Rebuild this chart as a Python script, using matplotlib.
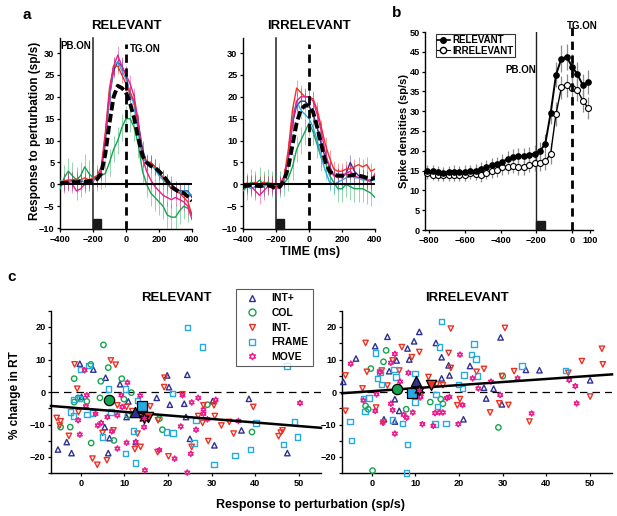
import matplotlib
matplotlib.use("Agg")
import matplotlib.pyplot as plt
from matplotlib.patches import Rectangle
from matplotlib.lines import Line2D
import numpy as np

plt.rcParams['font.family'] = ['Liberation Sans', 'DejaVu Sans']
plt.rcParams['font.weight'] = 'bold'
plt.rcParams['axes.labelweight'] = 'bold'

# ---------------- Panel a data ----------------
time_a = [-400, -375, -350, -325, -300, -275, -250, -225, -200, -175, -150, -125, -100, -75, -50, -25,
          0, 25, 50, 75, 100, 125, 150, 175, 200, 225, 250, 275, 300, 325, 350, 375, 400]

rel_mean = [0.2, 0.3, 0.4, 0.5, 0.5, 0.6, 0.6, 0.7, 0.8, 1.2, 2.5, 7, 14, 20, 22.5, 22, 21, 18.5, 15, 10.5, 6.5,
            5, 4.2, 3.8, 3, 2, 0.8, -0.5, -1.2, -1.8, -2, -2.8, -3.8]
rel_navy = [0, 0.5, 0.5, 1, 0.5, 0.8, 0.5, 1, 1, 1.5, 3, 10, 20, 26, 28, 27, 25, 20, 19, 14, 8, 5, 5, 4, 2.5,
            1.5, 0.5, 0, -1, -1.5, -1.5, -1.5, -3]
rel_red = [0.5, 0.8, 1, 1, 1.2, 1, 1.5, 1, 1.5, 2, 4, 12, 22, 27, 27, 25, 23, 21, 19, 13, 7, 5, 5, 4, 3, 1.5,
           0.5, -1, -1.5, -2, -3, -4, -7]
rel_cyan = [0.8, 0.5, 0.8, 0.5, 0.5, 1, 0.5, 0.5, 1, 1.5, 3, 11, 20, 27, 28, 26, 24, 21, 18, 12, 6, 5, 4.5,
            3.5, 2, 1, 0, -1, -1.5, -2, -1.5, -1.8, -2.5]
rel_magenta = [0, 0, 0.5, 0, -1.5, -1, 0, 0.5, 0.8, 1.5, 3, 11, 21, 27, 29.5, 27, 25, 23, 20, 14, 6, 3, 1,
               -0.5, -1.5, -2.5, -3, -3.5, -3, -3.5, -4, -5, -8]
rel_green = [-1, 1.5, 3, 2, 1, 2, 4, 2.5, 1.5, 1.5, 2, 2.5, 5, 8, 10, 13, 15, 15, 13, 9, 3, 0, -2, -3, -4,
             -5, -7, -7.5, -7.5, -6, -5, -5.5, -7]

irr_mean = [-0.5, -0.3, -0.2, -0.3, -0.4, -0.3, -0.2, -0.5, -1, -0.5, 1, 4, 9, 14, 17, 18, 18, 16.5, 13, 9,
            5, 3, 2.2, 2, 2, 2, 2, 2.2, 2, 1.8, 1.5, 1.2, 1.5]
irr_red = [0, 0.3, 0, 0.5, 0, 0.5, 0, 0.3, -0.5, 0, 2, 8, 17, 22, 21, 20, 20, 19.5, 17, 13, 9, 6, 3.5, 3, 3,
           3.5, 3.5, 4, 4.5, 4, 4.5, 3, 3.5]
irr_magenta = [-0.5, 0, -0.5, -1.5, -2.5, -1.5, -0.5, -0.5, -1, -0.3, 1.5, 6, 14, 19, 20, 20, 20, 19, 16,
               12, 7, 4, 2, 1.5, 2, 2.5, 3, 2, 1.5, 1.5, 1, 0.5, 2.5]
irr_navy = [0, 0, 0.3, 0, 0, 0, 0.2, 0, -0.5, 0, 1.5, 6, 14, 18, 19, 19, 18, 16, 13, 9, 6, 4, 2, 2, 1.5,
            2.5, 5, 3, 2, 1.5, 1, 1, 2]
irr_cyan = [-0.5, -0.5, -1, -0.5, -0.5, -0.5, 0, -0.3, -1, -0.5, 1, 7, 15, 19, 17, 16, 15, 13, 10, 6, 3,
            0.5, 0, 0.5, 1, 1.5, 2, 1.5, 1.5, 1, 1, 1, 1]
irr_green = [-1.5, -0.5, 0.5, 0, 1, 0, 0.5, 0, -0.5, 0, 0.3, 1.5, 4, 8, 10, 12, 14, 12, 9, 6, 5, 2, 0.5,
             -1, -1, 0, -0.5, -1, -1, -1, -1.5, -2, -3]

sem_a = {'navy': 1.8, 'red': 1.8, 'cyan': 2.0, 'magenta': 2.0, 'green': 3.0}

# ---------------- Panel b data ----------------
time_b = [-810, -780, -750, -720, -690, -660, -630, -600, -570, -540, -510, -480, -450, -420, -390, -360,
          -330, -300, -270, -240, -210, -180, -150, -120, -90, -60, -30, 0, 30, 60, 90]
sd_rel = [15.0, 14.8, 14.6, 14.5, 14.7, 14.7, 14.6, 14.7, 14.8, 15.0, 15.4, 15.9, 16.3, 16.7, 17.2, 18.0,
          18.5, 18.6, 18.7, 19.0, 19.3, 19.9, 21.8, 29.5, 39.2, 43.3, 43.7, 41.2, 39.3, 36.5, 37.3]
sd_irr = [14.3, 14.0, 13.8, 13.8, 13.9, 13.8, 13.8, 14.0, 14.5, 14.2, 13.8, 14.5, 14.8, 15.2, 15.8, 16.0,
          16.2, 15.8, 15.8, 16.5, 16.9, 17.0, 17.3, 19.3, 29.3, 36.0, 36.5, 35.8, 35.3, 32.6, 30.8]
err_rel = [1.5, 1.5, 1.5, 1.5, 1.5, 1.6, 1.6, 1.6, 1.6, 1.7, 1.7, 1.7, 1.8, 1.8, 1.9, 1.9, 2.0, 2.0, 2.0,
           2.0, 2.1, 2.2, 2.4, 2.8, 3.2, 3.3, 3.3, 3.2, 3.0, 3.0, 3.0]
err_irr = [1.4, 1.4, 1.4, 1.4, 1.4, 1.5, 1.5, 1.5, 1.5, 1.6, 1.6, 1.6, 1.7, 1.7, 1.8, 1.8, 1.9, 1.9, 1.9,
           1.9, 2.0, 2.1, 2.2, 2.6, 3.0, 3.0, 3.0, 3.0, 2.8, 2.8, 2.8]

# ---------------- Panel c data ----------------
cats = ['INT+', 'COL', 'INT-', 'FRAME', 'MOVE']

rel_intp_x = [-0.2, 2.9, 5.7, 9.0, 6.6, 5.5, -5.2, -3.2, -2.1, 6.3, 0.2, 10.9, 10.5, 12.6, 17.4, 19.8, 20.2,
              20.4, 24.4, 23.7, 24.1, 25.0, 30.6, 30.2, 38.5, 36.8, 47.3]
rel_intp_y = [8.7, 6.9, 4.4, 2.4, -14.2, -10.8, -17.7, -15.4, -18.8, -18.8, -1.5, -2.9, -7.7, -15.4, -1.8,
              5.1, 1.5, -3.9, 5.3, -3.6, -7.7, -14.4, -16.4, -2.8, -2.1, -11.8, -18.8]
rel_col_x = [5.2, -1.5, 2.3, 6.3, 4.6, 9.4, 4.4, 1.4, -1.5, -0.6, 11.6, 9.9, 7.6, 2.4, -2.4, -4.6, 10.8,
             18.0, 18.7, 29.0, 39.2]
rel_col_y = [14.5, 4.1, 8.5, 7.5, 3.3, 4.1, -1.8, -2.9, -3.1, -1.8, -0.2, -2.2, -14.9, -15.7, -10.8, -10.8,
             -7.2, -8.2, -11.6, -3.9, -12.3]
rel_intm_x = [-1.4, 6.9, 8.0, -0.8, -5.5, -4.6, -4.8, -2.7, -0.5, 2.7, 3.8, 6.0, 5.0, 7.5, 8.4, 10.5, 11.8,
              12.4, 13.7, 13.0, 15.3, 15.9, 17.6, 17.7, 19.2, 19.1, 20.1, 23.3, 25.4, 26.9, 27.9, 28.1,
              29.2, 30.5, 30.7, 32.2, 34.0, 35.0, 39.5, 45.3, 46.2, 45.8]
rel_intm_y = [8.5, 9.7, 8.4, 1.0, -8.0, -9.0, -10.3, -13.5, -6.2, -20.5, -22.4, -21.0, -12.6, -11.8, -4.1,
              -4.6, -5.9, -17.6, -16.9, -12.8, -7.7, -4.4, -18.5, -8.7, 4.4, 1.5, -19.8, -0.7, -16.9, -7.4,
              -9.5, -4.1, -15.1, -4.1, -7.4, -10.3, -9.2, -12.8, -4.6, -13.6, -11.8, -12.5]
rel_frame_x = [24.4, 27.9, 47.2, 0.0, 1.9, 6.3, 10.2, -2.3, -1.7, 1.4, 2.7, 5.0, 6.9, 10.3, 12.6, 12.1, 13.0,
               21.0, 19.7, 21.1, 26.4, 25.9, 30.5, 35.3, 38.9, 40.1, 46.4, 49.0, 49.6, -1.5, -0.3]
rel_frame_y = [19.8, 13.8, 8.0, 7.0, 8.2, 0.9, 0.9, -6.2, -7.4, -7.0, -6.5, -13.8, -6.2, -19.0, -21.8, -12.0,
               -2.6, -0.5, -12.3, -12.6, -8.7, -15.7, -22.3, -19.5, -17.6, -9.5, -16.1, -9.2, -13.8, -2.4,
               -2.0]
rel_move_x = [0.9, 10.7, 13.6, 1.4, 1.2, -0.6, -0.2, 3.9, 4.7, 3.4, 6.1, 9.3, 9.5, 8.4, 7.1, 8.4, 10.5, 12.6,
              14.7, 14.5, 14.1, 18.0, 21.5, 22.9, 23.3, 24.4, 25.2, 25.4, 26.4, 26.9, 28.1, 28.1, 29.0,
              30.9, 36.1, 50.2]
rel_move_y = [6.7, 2.9, -1.1, -1.0, -4.4, -8.7, -13.1, -10.3, -9.5, -6.7, -7.7, -1.0, -4.6, -7.2, -12.1,
              -17.4, -15.6, -15.4, -24.1, -10.8, -7.7, -17.9, -20.5, -10.6, -1.0, -24.8, -19.0, -3.2,
              -11.6, -1.8, -5.4, -6.7, -8.4, -2.4, -8.9, -3.4]
rel_mean_x = [12.5, 6.5, 15.3, 14.1, 14.5]
rel_mean_y = [-6.1, -2.5, -7.8, -4.3, -8.1]
rel_fit = [-5.03, -0.109]   # intercept, slope

irr_intp_x = [-6.5, -3.6, 0.8, 3.6, 4.0, 5.7, 8.2, 8.6, 9.7, 10.9, 14.7, 16.0, 16.0, 17.6, 17.8, 5.3, 6.3,
              5.3, 2.8, 21.0, 22.5, 25.7, 26.2, 27.9, 29.5, 29.8, 35.3, 38.4, 50.0]
irr_intp_y = [3.1, 10.3, 14.1, 17.0, 6.4, 9.7, 13.4, 10.0, 15.6, 18.5, 15.1, 10.7, 4.2, 8.2, 5.1, -2.2,
              -5.8, -9.1, -8.4, -8.4, 8.0, 1.3, -2.0, 1.0, 16.8, -3.8, 6.8, 6.7, 3.6]
irr_col_x = [3.3, 2.7, -0.2, -1.4, -0.8, 7.9, 13.4, 16.3, 15.8, 30.0, 29.0, 0.2]
irr_col_y = [12.8, 9.3, 7.2, -4.3, -5.3, -5.3, -3.1, -3.6, -2.2, 4.9, -10.9, -24.2]
irr_intm_x = [-6.0, -6.0, -2.1, -1.4, -1.1, 1.0, 2.3, 2.7, 3.6, 4.8, 6.3, 6.9, 9.2, 10.9, 11.1, 13.0, 14.9,
              16.3, 17.6, 18.1, 18.1, 19.6, 20.2, 24.0, 25.7, 27.1, 29.2, 29.8, 30.5, 31.3, 32.6, 45.0,
              48.1, 50.0, 52.7, 52.9, 36.1]
irr_intm_y = [5.1, -5.8, 1.1, 15.1, 6.2, -4.8, 6.6, -9.4, 2.0, 9.7, 6.6, 13.8, 10.7, 12.3, -1.7, 4.6, 2.3,
              2.1, 12.0, 19.5, 7.4, -4.1, -2.2, 6.2, 7.1, -6.3, -3.5, 4.9, 19.7, -4.0, 6.4, 5.9, 9.5,
              -1.4, 13.3, 8.5, -9.1]
irr_frame_x = [-5.0, -4.6, -1.9, -1.5, -0.6, 0.8, 1.3, 1.9, 2.3, 5.1, 5.6, 4.7, 7.1, 8.2, 8.0, 9.9, 9.9,
               14.5, 14.7, 15.1, 15.5, 16.0, 17.0, 19.8, 20.8, 21.1, 22.9, 23.4, 23.9, 24.2, 34.4, 44.3]
irr_frame_y = [-9.1, -15.0, -2.0, -6.0, -1.9, 12.0, 4.1, 6.2, 2.3, 6.9, 4.6, -8.6, -9.7, -16.2, -24.9, 5.6,
               -3.1, -9.9, -0.7, -4.5, 13.8, 21.7, -9.7, 2.3, 1.1, 5.2, 11.5, 14.8, 10.2, 4.9, 8.0, 6.6]
irr_move_x = [-4.8, -1.9, 0.8, 1.1, 1.9, 2.5, 4.4, 5.3, 4.4, 4.8, 5.3, 6.5, 7.3, 8.0, 8.4, 9.4, 11.2, 11.6,
              14.1, 14.5, 15.5, 16.3, 17.2, 17.8, 19.8, 20.8, 20.2, 23.1, 24.4, 27.3, 29.4, 33.4, 36.6,
              45.2, 46.6, 46.9]
irr_move_y = [8.7, -2.6, -5.8, -0.7, 6.1, -9.4, 9.0, 11.7, -3.6, -5.6, -12.8, 3.2, -7.0, -7.9, 5.9, -6.3,
              -1.5, -9.9, -10.4, -6.5, -6.3, -6.3, -1.9, -1.5, -9.9, -4.0, 11.5, 4.2, 1.1, 3.2, -0.9, 4.2,
              -6.6, 3.7, 1.8, -3.5]
irr_mean_x = [10.1, 5.7, 13.5, 9.3, 10.8]
irr_mean_y = [3.5, 0.8, 2.2, -0.2, 0.6]
irr_fit = [0.25, 0.094]

# ---------------- styling ----------------
C = {'navy': '#2e3192', 'green': '#14a44d', 'red': '#ee3124', 'cyan': '#27aae1', 'magenta': '#ec1c8c'}
cat_color = [C['navy'], C['green'], C['red'], C['cyan'], C['magenta']]
cat_marker = ['^', 'o', 'v', 's', (6, 1, 0)]

W, H = 617, 516
fig = plt.figure(figsize=(W / 100, H / 100), dpi=100)


def ax_px(l, t, r, b):
    return fig.add_axes([l / W, 1 - b / H, (r - l) / W, (b - t) / H])


def style(ax, fs=6.6):
    for s in ['top', 'right']:
        ax.spines[s].set_visible(False)
    for s in ['left', 'bottom']:
        ax.spines[s].set_linewidth(1.0)
    ax.tick_params(direction='out', length=2.5, width=0.9, labelsize=fs, pad=1.5)
    for lab in ax.get_xticklabels() + ax.get_yticklabels():
        lab.set_fontweight('bold')


def panel_a(ax, series, mean, title, labels):
    ax.set_xlim(-400, 400)
    ax.set_ylim(-10.2, 33.5)
    order = ['navy', 'green', 'cyan', 'red', 'magenta']
    for key in order:
        y = np.array(series[key])
        e = sem_a[key]
        ax.vlines(time_a, y - e, y + e, color=C[key], lw=0.7, alpha=0.45, zorder=2)
        ax.plot(time_a, y, color=C[key], lw=1.0, zorder=3)
    ax.plot(time_a, mean, color='black', lw=2.8, dashes=(2.2, 0.9), zorder=5)
    ax.plot([-400, 400], [0, 0], color='black', lw=1.5, zorder=4)
    ax.plot([-200, -200], [-10.2, 33.5], color='#222222', lw=1.1, zorder=1, clip_on=False)
    ax.plot([0, 0], [-10.2, 32], color='black', lw=2.0, dashes=(3, 2), zorder=6, clip_on=False)
    ax.add_patch(Rectangle((-200, -10.2), 50, 2.2, color='#1a1a1a', zorder=6, clip_on=False))
    ax.set_xticks([-400, -200, 0, 200, 400])
    ax.set_yticks([-10, -5, 0, 5, 10, 15, 20, 25, 30])
    style(ax)
    ax.set_title(title, fontsize=9.5, fontweight='bold', pad=6)
    if labels:
        ax.text(-400, 31.5, 'PB.ON', fontsize=7, fontweight='bold', va='center')
        ax.text(25, 31.0, 'TG.ON', fontsize=7, fontweight='bold', va='center')


axL = ax_px(60, 37.7, 192, 229)
panel_a(axL, {'navy': rel_navy, 'red': rel_red, 'cyan': rel_cyan, 'magenta': rel_magenta, 'green': rel_green},
        rel_mean, 'RELEVANT', True)
axR = ax_px(243, 37.7, 375, 229)
panel_a(axR, {'navy': irr_navy, 'red': irr_red, 'cyan': irr_cyan, 'magenta': irr_magenta, 'green': irr_green},
        irr_mean, 'IRRELEVANT', False)

# panel b
axB = ax_px(425.4, 32, 592.7, 230)
axB.set_xlim(-820, 115)
axB.set_ylim(0, 50)
axB.errorbar(time_b, sd_rel, yerr=err_rel, fmt='none', ecolor='#8c8c8c', elinewidth=0.9, zorder=2)
axB.errorbar(time_b, sd_irr, yerr=err_irr, fmt='none', ecolor='#8c8c8c', elinewidth=0.9, zorder=2)
axB.plot(time_b, sd_irr, color='black', lw=1.0, marker='o', ms=4.3, mfc='white', mec='black', mew=0.8,
         zorder=4, label='IRRELEVANT', clip_on=False)
axB.plot(time_b, sd_rel, color='black', lw=1.4, marker='o', ms=3.8, mfc='black', mec='black', zorder=5,
         label='RELEVANT', clip_on=False)
axB.plot([-200, -200], [0, 50], color='#222222', lw=1.0, zorder=1)
axB.plot([0, 0], [0, 51.5], color='black', lw=2.0, dashes=(3, 2), zorder=6, clip_on=False)
axB.add_patch(Rectangle((-200, 0), 50, 2.3, color='#1a1a1a', zorder=6))
axB.set_xticks([-800, -600, -400, -200, 0, 100])
axB.set_yticks(range(0, 51, 5))
style(axB)
axB.text(-200, 40.3, 'PB.ON', fontsize=7, fontweight='bold', ha='right', va='center')
axB.text(-30, 51.5, 'TG.ON', fontsize=7, fontweight='bold', ha='left', va='center', clip_on=False)
hB = [Line2D([], [], color='black', lw=1.2, marker='o', ms=4, mfc='black'),
      Line2D([], [], color='black', lw=0.8, marker='o', ms=4.5, mfc='white', mec='black')]
legB = axB.legend(hB, ['RELEVANT', 'IRRELEVANT'], loc='upper left', bbox_to_anchor=(0.05, 1.0),
                  prop={'size': 7, 'weight': 'bold'}, frameon=True, fancybox=False, edgecolor='black',
                  handlelength=1.3, handletextpad=0.3, borderpad=0.15, labelspacing=0.05, borderaxespad=0.2)
legB.get_frame().set_linewidth(0.8)


# panel c
def panel_c(ax, pts, means, fit, title):
    ax.set_xlim(-6.8, 55)
    ax.set_ylim(-25, 25)
    ax.axhline(0, color='black', lw=0.9, dashes=(6, 4), zorder=1)
    for i, (xs, ys) in enumerate(pts):
        ax.scatter(xs, ys, s=15, marker=cat_marker[i], facecolors='none', edgecolors=cat_color[i],
                   linewidths=1.0, zorder=3, clip_on=False)
    xl = np.array([-6.8, 55])
    ax.plot(xl, fit[0] + fit[1] * xl, color='black', lw=1.8, zorder=4, clip_on=False)
    for i in range(5):
        ax.scatter([means[0][i]], [means[1][i]], s=55, marker=cat_marker[i], facecolors=cat_color[i],
                   edgecolors='black', linewidths=0.9, zorder=6)
    ax.set_xticks([0, 10, 20, 30, 40, 50])
    ax.set_yticks([-20, -10, 0, 10, 20])
    ax.set_yticks([-25, -15, -5, 5, 15, 25], minor=True)
    style(ax)
    ax.tick_params(which='minor', direction='out', length=2.5, width=0.9)
    ax.text(21.8, 27.2, title, fontsize=9.5, fontweight='bold', ha='center', va='bottom')


axC1 = ax_px(51, 310.75, 321, 473.25)
panel_c(axC1, [(rel_intp_x, rel_intp_y), (rel_col_x, rel_col_y), (rel_intm_x, rel_intm_y),
               (rel_frame_x, rel_frame_y), (rel_move_x, rel_move_y)],
        (rel_mean_x, rel_mean_y), rel_fit, 'RELEVANT')
axC2 = ax_px(342, 310.75, 612, 473.25)
panel_c(axC2, [(irr_intp_x, irr_intp_y), (irr_col_x, irr_col_y), (irr_intm_x, irr_intm_y),
               (irr_frame_x, irr_frame_y), (irr_move_x, irr_move_y)],
        (irr_mean_x, irr_mean_y), irr_fit, 'IRRELEVANT')

hC = [Line2D([], [], ls='none', marker=cat_marker[i], ms=5, mfc='none', mec=cat_color[i], mew=1.0)
      for i in range(5)]
legC = fig.legend(hC, cats, loc='upper left', bbox_to_anchor=(231 / W, 1 - 284 / H),
                  prop={'size': 7.5, 'weight': 'bold'}, frameon=True, fancybox=False, edgecolor='#333333',
                  handlelength=2.2, handletextpad=0.8, borderpad=0.4, labelspacing=0.45)
legC.get_frame().set_linewidth(0.8)

# figure texts
fig.text(27 / W, 1 - 15 / H, 'a', fontsize=11, fontweight='bold', ha='center', va='center')
fig.text(397 / W, 1 - 13 / H, 'b', fontsize=11, fontweight='bold', ha='center', va='center')
fig.text(12 / W, 1 - 277 / H, 'c', fontsize=11, fontweight='bold', ha='center', va='center')
fig.text(35 / W, 1 - 131 / H, 'Response to perturbation (sp/s)', rotation=90, fontsize=8.5,
         fontweight='bold', ha='center', va='center')
fig.text(404 / W, 1 - 131 / H, 'Spike densities (sp/s)', rotation=90, fontsize=8,
         fontweight='bold', ha='center', va='center')
fig.text(15 / W, 1 - 395 / H, '% change in RT', rotation=90, fontsize=8.5,
         fontweight='bold', ha='center', va='center')
fig.text(310 / W, 1 - 252 / H, 'TIME (ms)', fontsize=9, fontweight='bold', ha='center', va='center')
fig.text(310 / W, 1 - 505 / H, 'Response to perturbation (sp/s)', fontsize=9, fontweight='bold',
         ha='center', va='center')

fig.savefig('out.png', dpi=100)
